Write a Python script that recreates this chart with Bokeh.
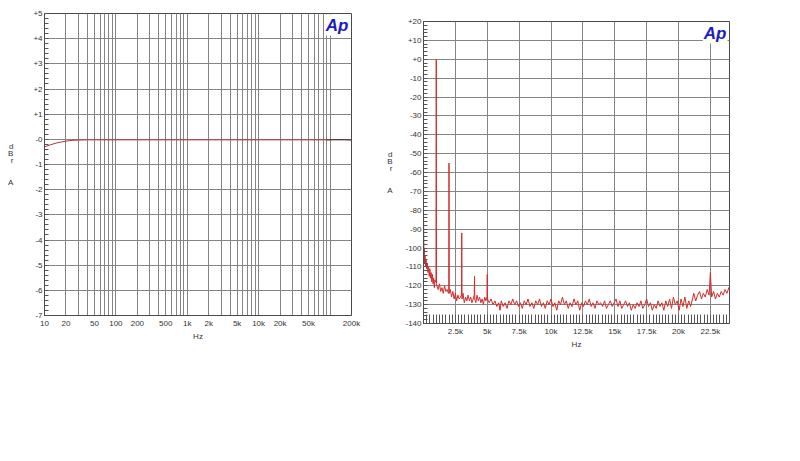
from bokeh.plotting import figure
from bokeh.layouts import row
from bokeh.models import FixedTicker, Label
from bokeh.embed import file_html
from bokeh.resources import INLINE

# ---------------- data: frequency response (left) ----------------
resp_freq = [10, 12, 15, 20, 25, 30, 40, 60, 100, 1000, 10000, 50000, 100000]
resp_db = [-0.30, -0.22, -0.14, -0.07, -0.04, -0.03, -0.02, -0.02, -0.02, -0.02, -0.02, -0.02, -0.02]
resp2_freq = [90000, 120000, 160000, 200000]
resp2_db = [-0.02, -0.02, -0.02, -0.03]

log_grid = [10, 20, 30, 40, 50, 60, 70, 80, 90, 100,
            200, 300, 400, 500, 600, 700, 800, 900, 1000,
            2000, 3000, 4000, 5000, 6000, 7000, 8000, 9000, 10000,
            20000, 30000, 40000, 50000, 60000, 70000, 80000, 90000, 100000, 200000]
log_labels = {10: "10", 20: "20", 50: "50", 100: "100", 200: "200", 500: "500",
              1000: "1k", 2000: "2k", 5000: "5k", 10000: "10k", 20000: "20k",
              50000: "50k", 200000: "200k"}
left_y_ticks = [-7, -6, -5, -4, -3, -2, -1, 0, 1, 2, 3, 4, 5]
left_y_labels = ["-7", "-6", "-5", "-4", "-3", "-2", "-1", "-0", "+1", "+2", "+3", "+4", "+5"]

# ---------------- data: FFT spectrum (right) ----------------
fft_freq = [0, 20, 40, 60, 90, 120, 160, 200, 250, 300, 350, 400, 450, 500, 550, 600, 650,
            700, 750, 800, 850, 900, 950, 980, 1000, 1020,
            1050, 1150, 1250, 1350, 1450, 1550, 1650, 1750, 1850, 1950, 1980, 2000, 2020,
            2100, 2200, 2300, 2400, 2500, 2600, 2700, 2800, 2900, 2980, 3000, 3020,
            3100, 3200, 3300, 3400, 3500, 3600, 3700, 3800, 3900, 3980, 4000, 4020,
            4100, 4200, 4300, 4400, 4500, 4600, 4700, 4800, 4900, 4980, 5000, 5020,
            5150, 5300, 5450, 5600, 5750, 5900, 6000, 6100, 6250, 6400, 6550, 6700, 6850,
            7000, 7150, 7300, 7450, 7600, 7750, 7900, 8050, 8200, 8350, 8500, 8650, 8800,
            8950, 9100, 9250, 9400, 9550, 9700, 9850,
            10000, 10150, 10300, 10450, 10600, 10750, 10900, 11050, 11200, 11350, 11500,
            11650, 11800, 11950, 12100, 12250, 12400, 12550, 12700, 12850, 13000, 13150,
            13300, 13450, 13600, 13750, 13900, 14050, 14200, 14350, 14500, 14650, 14800,
            14950, 15100, 15250, 15400, 15550, 15700, 15850, 16000, 16150, 16300, 16450,
            16600, 16750, 16900, 17050, 17200, 17350, 17500, 17650, 17800, 17950, 18100,
            18250, 18400, 18550, 18700, 18850, 19000, 19150, 19300, 19450, 19600, 19750,
            19900, 20050, 20200, 20350, 20500, 20650, 20800, 20950, 21100, 21200, 21350,
            21500, 21650, 21800, 21950, 22100, 22250, 22400, 22500, 22600, 22750, 22900,
            23050, 23200, 23350, 23500, 23650, 23800, 23950, 24000]
fft_db = [-80, -96, -103, -100, -108, -104, -110, -106, -111, -108, -113, -110, -115, -111, -116, -113, -118,
          -114, -119, -116, -121, -117, -118, -118, 0, -119,
          -120, -122, -119, -123, -121, -124, -120, -123, -122, -124, -123, -55, -124,
          -122, -126, -123, -127, -124, -128, -125, -127, -126, -125, -92, -127,
          -124, -129, -126, -128, -125, -128, -126, -129, -127, -125, -115, -127,
          -129, -125, -128, -126, -129, -127, -130, -126, -128, -126, -114, -127,
          -129, -127, -130, -128, -131, -129, -133, -128, -131, -129, -132, -128, -130,
          -127, -130, -128, -131, -129, -132, -128, -130, -127, -131, -129, -132, -128,
          -130, -127, -131, -129, -132, -128, -130,
          -127, -131, -129, -133, -128, -130, -126, -130, -128, -132, -129,
          -131, -127, -130, -128, -133, -129, -131, -128, -130, -127, -131,
          -129, -132, -128, -130, -129, -131, -128, -132, -130, -128, -131,
          -129, -127, -131, -128, -132, -130, -128, -131, -129, -133, -130,
          -132, -129, -131, -128, -132, -130, -127, -131, -129, -133, -130,
          -132, -128, -131, -129, -133, -128, -131, -127, -132, -126, -130,
          -128, -133, -127, -131, -126, -132, -128, -131, -127, -124, -128,
          -125, -123, -127, -124, -126, -122, -125, -113, -126, -123, -127,
          -124, -126, -123, -125, -122, -124, -121, -122]

lin_grid = [0, 2500, 5000, 7500, 10000, 12500, 15000, 17500, 20000, 22500]
lin_labels = ["", "2.5k", "5k", "7.5k", "10k", "12.5k", "15k", "17.5k", "20k", "22.5k"]
right_y_ticks = [-140, -130, -120, -110, -100, -90, -80, -70, -60, -50, -40, -30, -20, -10, 0, 10, 20]
right_y_labels = ["-140", "-130", "-120", "-110", "-100", "-90", "-80", "-70", "-60", "-50",
                  "-40", "-30", "-20", "-10", "+0", "+10", "+20"]

unit_label = "d\nB\nr\n\n\nA"

FONT = "Liberation Sans"
GRID = "#858585"
FRAME = "#4a4a4a"
LOGO = "#1c1cc0"


def style(p, ylabel_standoff):
    p.outline_line_color = FRAME
    p.outline_line_width = 1
    p.background_fill_color = "white"
    p.border_fill_color = "white"
    p.xgrid.grid_line_color = GRID
    p.ygrid.grid_line_color = GRID
    p.xgrid.grid_line_width = 1
    p.ygrid.grid_line_width = 1
    for ax in (p.xaxis[0], p.yaxis[0]):
        ax.axis_line_color = FRAME
        ax.major_tick_in = 0
        ax.major_tick_out = 0
        ax.minor_tick_out = 0
        ax.minor_tick_line_color = "#555555"
        ax.major_label_text_font = FONT
        ax.major_label_text_font_size = "8px"
        ax.major_label_text_color = "#333333"
        ax.axis_label_text_font = FONT
        ax.axis_label_text_font_size = "8px"
        ax.axis_label_text_font_style = "normal"
        ax.axis_label_text_color = "#333333"
    p.yaxis[0].minor_tick_in = 4
    p.yaxis[0].major_label_standoff = 2
    p.xaxis[0].major_label_standoff = 3
    p.xaxis[0].axis_label = "Hz"
    p.xaxis[0].axis_label_standoff = 1
    p.yaxis[0].axis_label = unit_label
    p.yaxis[0].axis_label_orientation = "horizontal"
    p.yaxis[0].axis_label_text_line_height = 0.8
    p.yaxis[0].axis_label_standoff = ylabel_standoff


def logo(p, x, y):
    p.add_layout(Label(x=x, y=y, x_offset=-2, y_offset=-1, text="Ap", text_align="right",
                       text_baseline="top", text_font=FONT, text_font_style="bold italic",
                       text_font_size="17px", text_color=LOGO, background_fill_color="white",
                       padding=1))


# ---------------- left figure ----------------
p1 = figure(width=378, height=360, x_axis_type="log", x_range=(10, 200000), y_range=(-7, 5),
            output_backend="svg", toolbar_location=None, frame_align=False,
            min_border_left=44, min_border_right=27, min_border_top=13, min_border_bottom=45)
style(p1, 17)
p1.xaxis[0].ticker = FixedTicker(ticks=log_grid, minor_ticks=[])
p1.xaxis[0].major_label_overrides = {t: log_labels.get(t, "") for t in log_grid}
p1.xaxis[0].minor_tick_in = 0
p1.yaxis[0].ticker = FixedTicker(ticks=left_y_ticks,
                                 minor_ticks=[round(-7 + 0.2 * i, 2) for i in range(61)])
p1.yaxis[0].major_label_overrides = dict(zip(left_y_ticks, left_y_labels))
p1.line(resp2_freq, resp2_db, line_color="#3a2020", line_width=1)
p1.line(resp_freq, resp_db, line_color="#b03838", line_width=1)
logo(p1, 200000, 5)

# ---------------- right figure ----------------
p2 = figure(width=400, height=360, x_range=(0, 24000), y_range=(-140, 20),
            output_backend="svg", toolbar_location=None, frame_align=False,
            min_border_left=45, min_border_right=49, min_border_top=21, min_border_bottom=37)
style(p2, 10)
p2.xaxis[0].ticker = FixedTicker(ticks=lin_grid, minor_ticks=[250 * i for i in range(97)])
p2.xaxis[0].major_label_overrides = dict(zip(lin_grid, lin_labels))
p2.xaxis[0].minor_tick_in = 9
p2.yaxis[0].ticker = FixedTicker(ticks=right_y_ticks,
                                 minor_ticks=[-140 + 2 * i for i in range(81)])
p2.yaxis[0].major_label_overrides = dict(zip(right_y_ticks, right_y_labels))
p2.line(fft_freq, fft_db, line_color="#d42a2a", line_width=1)
logo(p2, 24000, 20)

layout = row(p1, p2)
open("out.html", "w").write(file_html(layout, INLINE))
